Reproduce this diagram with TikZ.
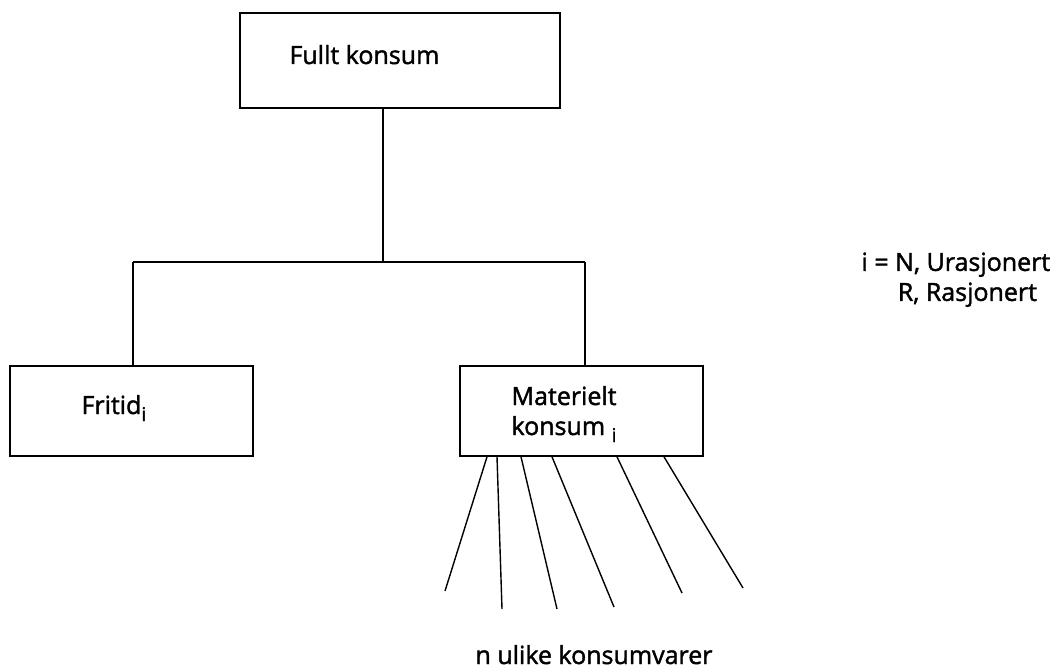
\documentclass[tikz,border=0pt]{standalone}
\usepackage{fontspec}
\setmainfont{Open Sans}[FakeBold=1.6]
\newcommand{\subi}{\raisebox{-7pt}{\fontsize{19}{20}\selectfont i}}
\begin{document}
\begin{tikzpicture}[x=1pt,y=-1pt,
  box/.style={draw,line width=1.6pt,rectangle,inner sep=0pt},
  conn/.style={line width=1.4pt},
  lbl/.style={font=\fontsize{25}{30}\selectfont}]
\useasboundingbox (0,0) rectangle (1059,671);
\node[box,minimum width=320pt,minimum height=95pt] (top) at (400,60.5) {};
\node[lbl,anchor=base west] (toptext) at (286,64) {Fullt konsum};
\node[box,minimum width=243pt,minimum height=90pt] (frit) at (131.5,411) {};
\node[lbl,anchor=base west] (fritext) at (78,414) {Fritid\subi};
\node[box,minimum width=243pt,minimum height=90pt] (mat) at (581.5,411) {};
\node[lbl,anchor=west,align=left] (mattext) at (508,414) {Materielt\\konsum \subi};
\coordinate (j) at (383,262);
\coordinate (jl) at (133,262);
\coordinate (jr) at (585,262);
\draw[conn] (top.south -| j) -- (j);
\draw[conn] (jl) -- (jr);
\draw[conn] (jl) -- (jl |- frit.north);
\draw[conn] (jr) -- (jr |- mat.north);
\foreach \sx/\ex/\ey [count=\k] in {487/445/591, 497/502/609, 521/557/609, 552/614/607, 617/682/593, 664/743/588} {
  \coordinate (e\k) at (\ex,\ey);
  \draw[conn] (mat.south -| \sx,0) -- (e\k);
}
\node[lbl,anchor=base west] (nvar) at (472,664) {n ulike konsumvarer};
\node[lbl,anchor=north west,align=left] (key) at (858,249) {i = N, Urasjonert\\\hspace*{1.45em}R, Rasjonert};
\end{tikzpicture}
\end{document}
